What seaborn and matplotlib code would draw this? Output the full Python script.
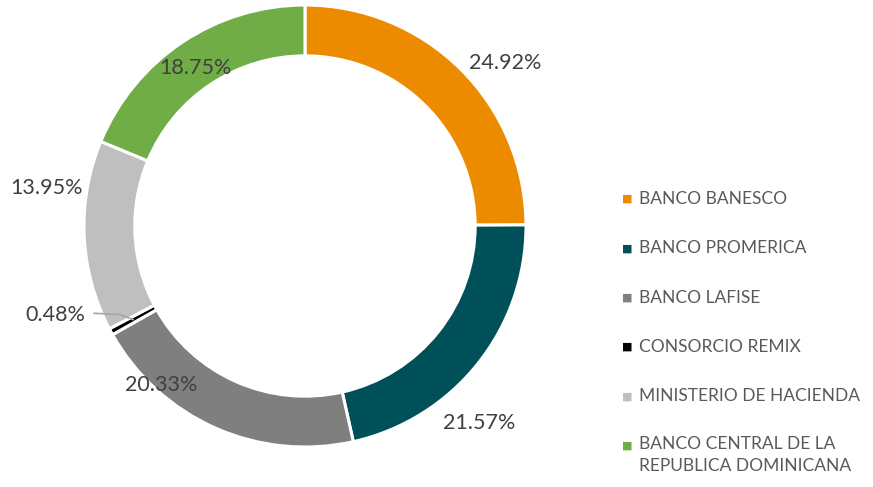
import numpy as np
import matplotlib
matplotlib.use("Agg")
import matplotlib.pyplot as plt
import seaborn as sns

categories = ["BANCO BANESCO", "BANCO PROMERICA", "BANCO LAFISE", "CONSORCIO REMIX",
              "MINISTERIO DE HACIENDA", "BANCO CENTRAL DE LA\nREPUBLICA DOMINICANA"]
shares = [24.92, 21.57, 20.33, 0.48, 13.95, 18.75]
colors = ["#ED8B00", "#00505A", "#7F7F7F", "#000000", "#BFBFBF", "#70AD47"]

# label placement: radius (in pie units) and angle tweak (deg) per slice
label_r = [1.17, 1.19, 0.97, 1.20, 1.18, 0.87]
label_dang = [-6, -10, -18, -9, -11, 1]

sns.set_theme(style="white")
plt.rcParams['font.family'] = ['Lato', 'DejaVu Sans']

fig = plt.figure(figsize=(8.73, 4.87), dpi=100)
ax = fig.add_axes([0.0962, 0.0821, 0.5063, 0.9076])

wedges, _ = ax.pie(shares, colors=sns.color_palette(colors), startangle=90, counterclock=False,
                   radius=1.0, wedgeprops=dict(width=0.23, edgecolor="white", linewidth=2.2))
ax.set_xlim(-1, 1)
ax.set_ylim(-1, 1)
ax.set_aspect("equal")
ax.axis("off")

# percentage labels
for w, v, r, da in zip(wedges, shares, label_r, label_dang):
    ang = np.deg2rad((w.theta1 + w.theta2) / 2 + da)
    ax.text(r * np.cos(ang), r * np.sin(ang), f"{v:.2f}%", ha="center", va="center",
            fontsize=15.5, color="#404040")

# leader line for the tiny slice
w = wedges[3]
a = np.deg2rad((w.theta1 + w.theta2) / 2)
px, py = 0.885 * np.cos(a), 0.885 * np.sin(a)
ax.plot([-0.955, -0.84, px], [-0.395, -0.40, py], color="#A6A6A6", lw=1.2, clip_on=False)

# legend, drawn by hand so the marker sits on the first line of a wrapped label
y0 = 1 - 199 / 487
step = 49.3 / 487
for i, (name, c) in enumerate(zip(categories, colors)):
    y = y0 - i * step
    fig.text(627 / 873, y, "\u25A0", color=c, fontsize=8, ha="center", va="center",
             family=["DejaVu Sans"])
    if "\n" in name:
        fig.text(639 / 873, y + 9 / 487, name, color="#595959", fontsize=12.5,
                 ha="left", va="top", linespacing=1.45)
    else:
        fig.text(639 / 873, y, name, color="#595959", fontsize=12.5, ha="left", va="center")

fig.savefig("out.png", dpi=100, facecolor="white")
